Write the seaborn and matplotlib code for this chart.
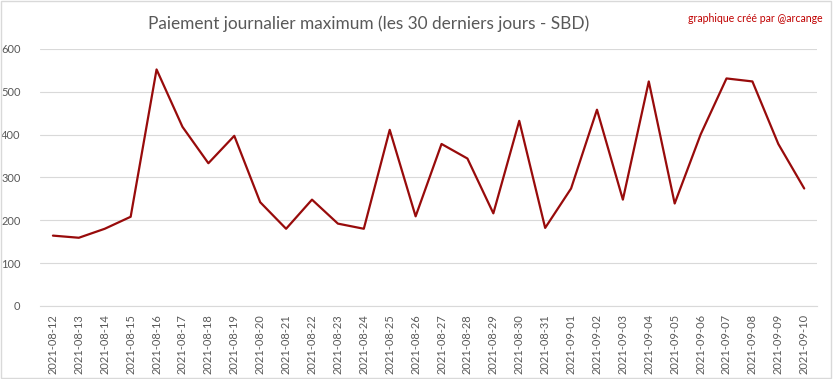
import matplotlib
matplotlib.use('Agg')
import matplotlib.pyplot as plt
import seaborn as sns
import pandas as pd

dates = ['2021-08-12', '2021-08-13', '2021-08-14', '2021-08-15', '2021-08-16',
         '2021-08-17', '2021-08-18', '2021-08-19', '2021-08-20', '2021-08-21',
         '2021-08-22', '2021-08-23', '2021-08-24', '2021-08-25', '2021-08-26',
         '2021-08-27', '2021-08-28', '2021-08-29', '2021-08-30', '2021-08-31',
         '2021-09-01', '2021-09-02', '2021-09-03', '2021-09-04', '2021-09-05',
         '2021-09-06', '2021-09-07', '2021-09-08', '2021-09-09', '2021-09-10']
paiement = [164, 159, 180, 208, 552, 418, 333, 397, 242, 180,
            248, 192, 180, 411, 209, 378, 344, 216, 432, 182,
            274, 458, 248, 524, 239, 400, 531, 524, 378, 274]
yticks = [0, 100, 200, 300, 400, 500, 600]

sns.set_style('white')
plt.rcParams['font.family'] = ['Lato', 'DejaVu Sans']

df = pd.DataFrame({'date': dates, 'paiement': paiement})

fig = plt.figure(figsize=(8.33, 3.79), dpi=100)
ax = fig.add_axes([0.048, 0.193, 0.933, 0.678])

sns.lineplot(data=df, x='date', y='paiement', ax=ax, color='#980b0b',
             linewidth=1.6, sort=False)

ax.set_xlim(-0.5, len(dates) - 0.5)
ax.set_ylim(0, 600)
ax.set_yticks(yticks)
ax.yaxis.grid(True, color='#d9d9d9', linewidth=0.8)
ax.xaxis.grid(False)
for s in ['top', 'right', 'left']:
    ax.spines[s].set_visible(False)
ax.spines['bottom'].set_color('#d9d9d9')
ax.tick_params(axis='both', length=0, colors='#595959', labelsize=8)
ax.tick_params(axis='x', rotation=90, pad=6)
ax.tick_params(axis='y', pad=14)
ax.set_xlabel('')
ax.set_ylabel('')

fig.text(0.443, 0.938, 'Paiement journalier maximum (les 30 derniers jours - SBD)',
         ha='center', va='center', fontsize=12.4, color='#595959')
fig.text(0.987, 0.952, 'graphique créé par @arcange', ha='right', va='center',
         fontsize=7.6, color='#c00000')

# cadre gris autour de l'image
fig.patches.append(plt.Rectangle((0.001, 0.002), 0.997, 0.995, transform=fig.transFigure,
                                 fill=False, edgecolor='#d9d9d9', linewidth=1))

fig.savefig('out.png', dpi=100)
